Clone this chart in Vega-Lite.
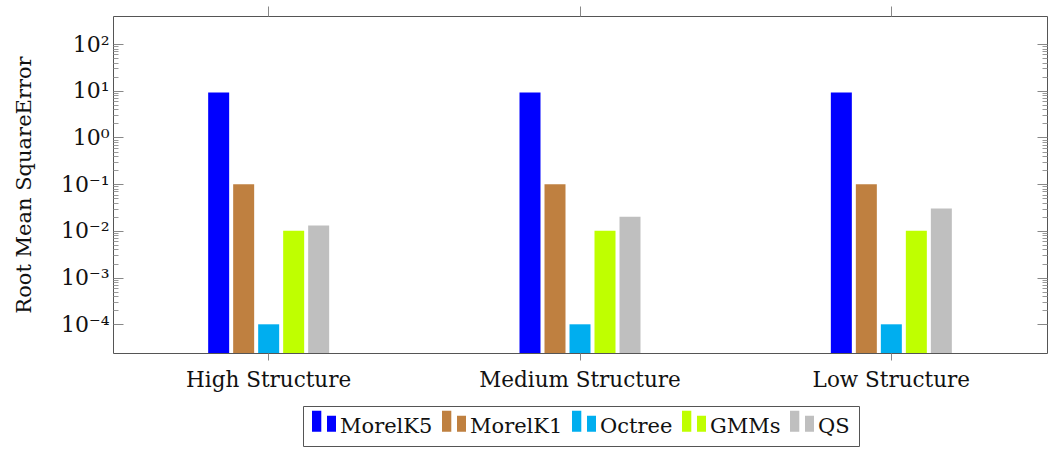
{
  "$schema": "https://vega.github.io/schema/vega-lite/v6.json",
  "width": 934,
  "height": 337,
  "autosize": {"type": "none"},
  "padding": {"left": 113, "top": 16, "right": 8, "bottom": 96},
  "background": "white",
  "config": {
    "view": {"stroke": "#555", "strokeWidth": 1},
    "font": "DejaVu Serif"
  },
  "data": {
    "values": [
      {"structure": "High Structure", "method": "MorelK5", "rmse": 9.2},
      {"structure": "High Structure", "method": "MorelK1", "rmse": 0.1},
      {"structure": "High Structure", "method": "Octree", "rmse": 0.0001},
      {"structure": "High Structure", "method": "GMMs", "rmse": 0.01},
      {"structure": "High Structure", "method": "QS", "rmse": 0.013},
      {"structure": "Medium Structure", "method": "MorelK5", "rmse": 9.2},
      {"structure": "Medium Structure", "method": "MorelK1", "rmse": 0.1},
      {"structure": "Medium Structure", "method": "Octree", "rmse": 0.0001},
      {"structure": "Medium Structure", "method": "GMMs", "rmse": 0.01},
      {"structure": "Medium Structure", "method": "QS", "rmse": 0.02},
      {"structure": "Low Structure", "method": "MorelK5", "rmse": 9.2},
      {"structure": "Low Structure", "method": "MorelK1", "rmse": 0.1},
      {"structure": "Low Structure", "method": "Octree", "rmse": 0.0001},
      {"structure": "Low Structure", "method": "GMMs", "rmse": 0.01},
      {"structure": "Low Structure", "method": "QS", "rmse": 0.03}
    ]
  },
  "resolve": {"axis": {"x": "independent", "y": "independent"}},
  "layer": [
    {
      "mark": {"type": "bar"},
      "encoding": {
        "x": {
          "field": "structure",
          "type": "nominal",
          "sort": ["High Structure", "Medium Structure", "Low Structure"],
          "scale": {"type": "band", "paddingInner": 0, "paddingOuter": 0},
          "axis": {
            "orient": "bottom",
            "title": null,
            "domain": false,
            "ticks": true,
            "tickSize": 7,
            "tickColor": "#888",
            "labelAngle": 0,
            "labelFont": "DejaVu Serif",
            "labelFontSize": 21.5,
            "labelColor": "#111",
            "labelPadding": 9,
            "labelLimit": 0
          }
        },
        "xOffset": {
          "field": "method",
          "type": "nominal",
          "sort": ["MorelK5", "MorelK1", "Octree", "GMMs", "QS"],
          "scale": {"range": [95.17, 216.17], "paddingInner": 0.16, "paddingOuter": 0}
        },
        "y": {
          "field": "rmse",
          "type": "quantitative",
          "stack": null,
          "scale": {"type": "log", "domain": [0.0000243, 398], "nice": false},
          "axis": {
            "orient": "left",
            "values": [0.0001, 0.001, 0.01, 0.1, 1, 10, 100],
            "labelExpr": "'10' + (round(log(datum.value) / LN10) < 0 ? '⁻' : '') + ['⁰', '¹', '²', '³', '⁴', '⁵'][abs(round(log(datum.value) / LN10))]",
            "ticks": false,
            "domain": false,
            "grid": false,
            "labelFont": "DejaVu Serif",
            "labelFontSize": 22,
            "labelColor": "#111",
            "labelPadding": 4,
            "title": "Root Mean SquareError",
            "titleFont": "DejaVu Serif",
            "titleFontSize": 21,
            "titleFontWeight": "normal",
            "titleColor": "#111",
            "titleX": -83,
            "titleBaseline": "alphabetic"
          }
        },
        "y2": {"value": "height"},
        "color": {
          "field": "method",
          "type": "nominal",
          "sort": ["MorelK5", "MorelK1", "Octree", "GMMs", "QS"],
          "scale": {
            "domain": ["MorelK5", "MorelK1", "Octree", "GMMs", "QS"],
            "range": ["#0000ff", "#bf8040", "#00aeef", "#bfff00", "#bfbfbf"]
          },
          "legend": {
            "orient": "none",
            "legendX": 190,
            "legendY": 390,
            "direction": "horizontal",
            "columns": 5,
            "title": null,
            "symbolType": "M-1,-1.35H-0.225V0.4H-1Z M0.25,-0.93H1V0.4H0.25Z",
            "symbolSize": 576,
            "symbolStrokeWidth": 0,
            "symbolOpacity": 1,
            "labelFont": "DejaVu Serif",
            "labelFontSize": 21,
            "labelColor": "#111",
            "labelOffset": 4,
            "labelLimit": 0,
            "columnPadding": 9,
            "padding": 9,
            "strokeColor": "#555",
            "fillColor": "white"
          }
        }
      }
    },
    {
      "mark": {"type": "tick", "opacity": 0},
      "encoding": {
        "x": {
          "field": "structure",
          "type": "nominal",
          "sort": ["High Structure", "Medium Structure", "Low Structure"],
          "axis": {
            "orient": "top",
            "title": null,
            "domain": false,
            "labels": false,
            "tickSize": 10,
            "tickColor": "#888"
          }
        },
        "y": {
          "field": "rmse",
          "type": "quantitative",
          "stack": null,
          "scale": {"type": "log"},
          "axis": {
            "orient": "left",
            "values": [0.0001, 0.001, 0.01, 0.1, 1, 10, 100],
            "offset": -10,
            "tickSize": 10,
            "tickColor": "#888",
            "domain": false,
            "labels": false,
            "grid": false,
            "title": null
          }
        }
      }
    },
    {
      "mark": {"type": "tick", "opacity": 0},
      "encoding": {
        "y": {
          "field": "rmse",
          "type": "quantitative",
          "stack": null,
          "scale": {"type": "log"},
          "axis": {
            "orient": "left",
            "values": [0.0002, 0.0003, 0.0004, 0.0005, 0.0006, 0.0007, 0.0008, 0.0009, 0.002, 0.003, 0.004, 0.005, 0.006, 0.007, 0.008, 0.009, 0.02, 0.03, 0.04, 0.05, 0.06, 0.07, 0.08, 0.09, 0.2, 0.3, 0.4, 0.5, 0.6, 0.7, 0.8, 0.9, 2, 3, 4, 5, 6, 7, 8, 9, 20, 30, 40, 50, 60, 70, 80, 90],
            "offset": -5,
            "tickSize": 5,
            "tickColor": "#999",
            "domain": false,
            "labels": false,
            "grid": false,
            "title": null
          }
        }
      }
    },
    {
      "mark": {"type": "tick", "opacity": 0},
      "encoding": {
        "y": {
          "field": "rmse",
          "type": "quantitative",
          "stack": null,
          "scale": {"type": "log"},
          "axis": {
            "orient": "right",
            "values": [0.0001, 0.001, 0.01, 0.1, 1, 10, 100],
            "offset": -10,
            "tickSize": 10,
            "tickColor": "#888",
            "domain": false,
            "labels": false,
            "grid": false,
            "title": null
          }
        }
      }
    },
    {
      "mark": {"type": "tick", "opacity": 0},
      "encoding": {
        "y": {
          "field": "rmse",
          "type": "quantitative",
          "stack": null,
          "scale": {"type": "log"},
          "axis": {
            "orient": "right",
            "values": [0.0002, 0.0003, 0.0004, 0.0005, 0.0006, 0.0007, 0.0008, 0.0009, 0.002, 0.003, 0.004, 0.005, 0.006, 0.007, 0.008, 0.009, 0.02, 0.03, 0.04, 0.05, 0.06, 0.07, 0.08, 0.09, 0.2, 0.3, 0.4, 0.5, 0.6, 0.7, 0.8, 0.9, 2, 3, 4, 5, 6, 7, 8, 9, 20, 30, 40, 50, 60, 70, 80, 90],
            "offset": -5,
            "tickSize": 5,
            "tickColor": "#999",
            "domain": false,
            "labels": false,
            "grid": false,
            "title": null
          }
        }
      }
    }
  ]
}
